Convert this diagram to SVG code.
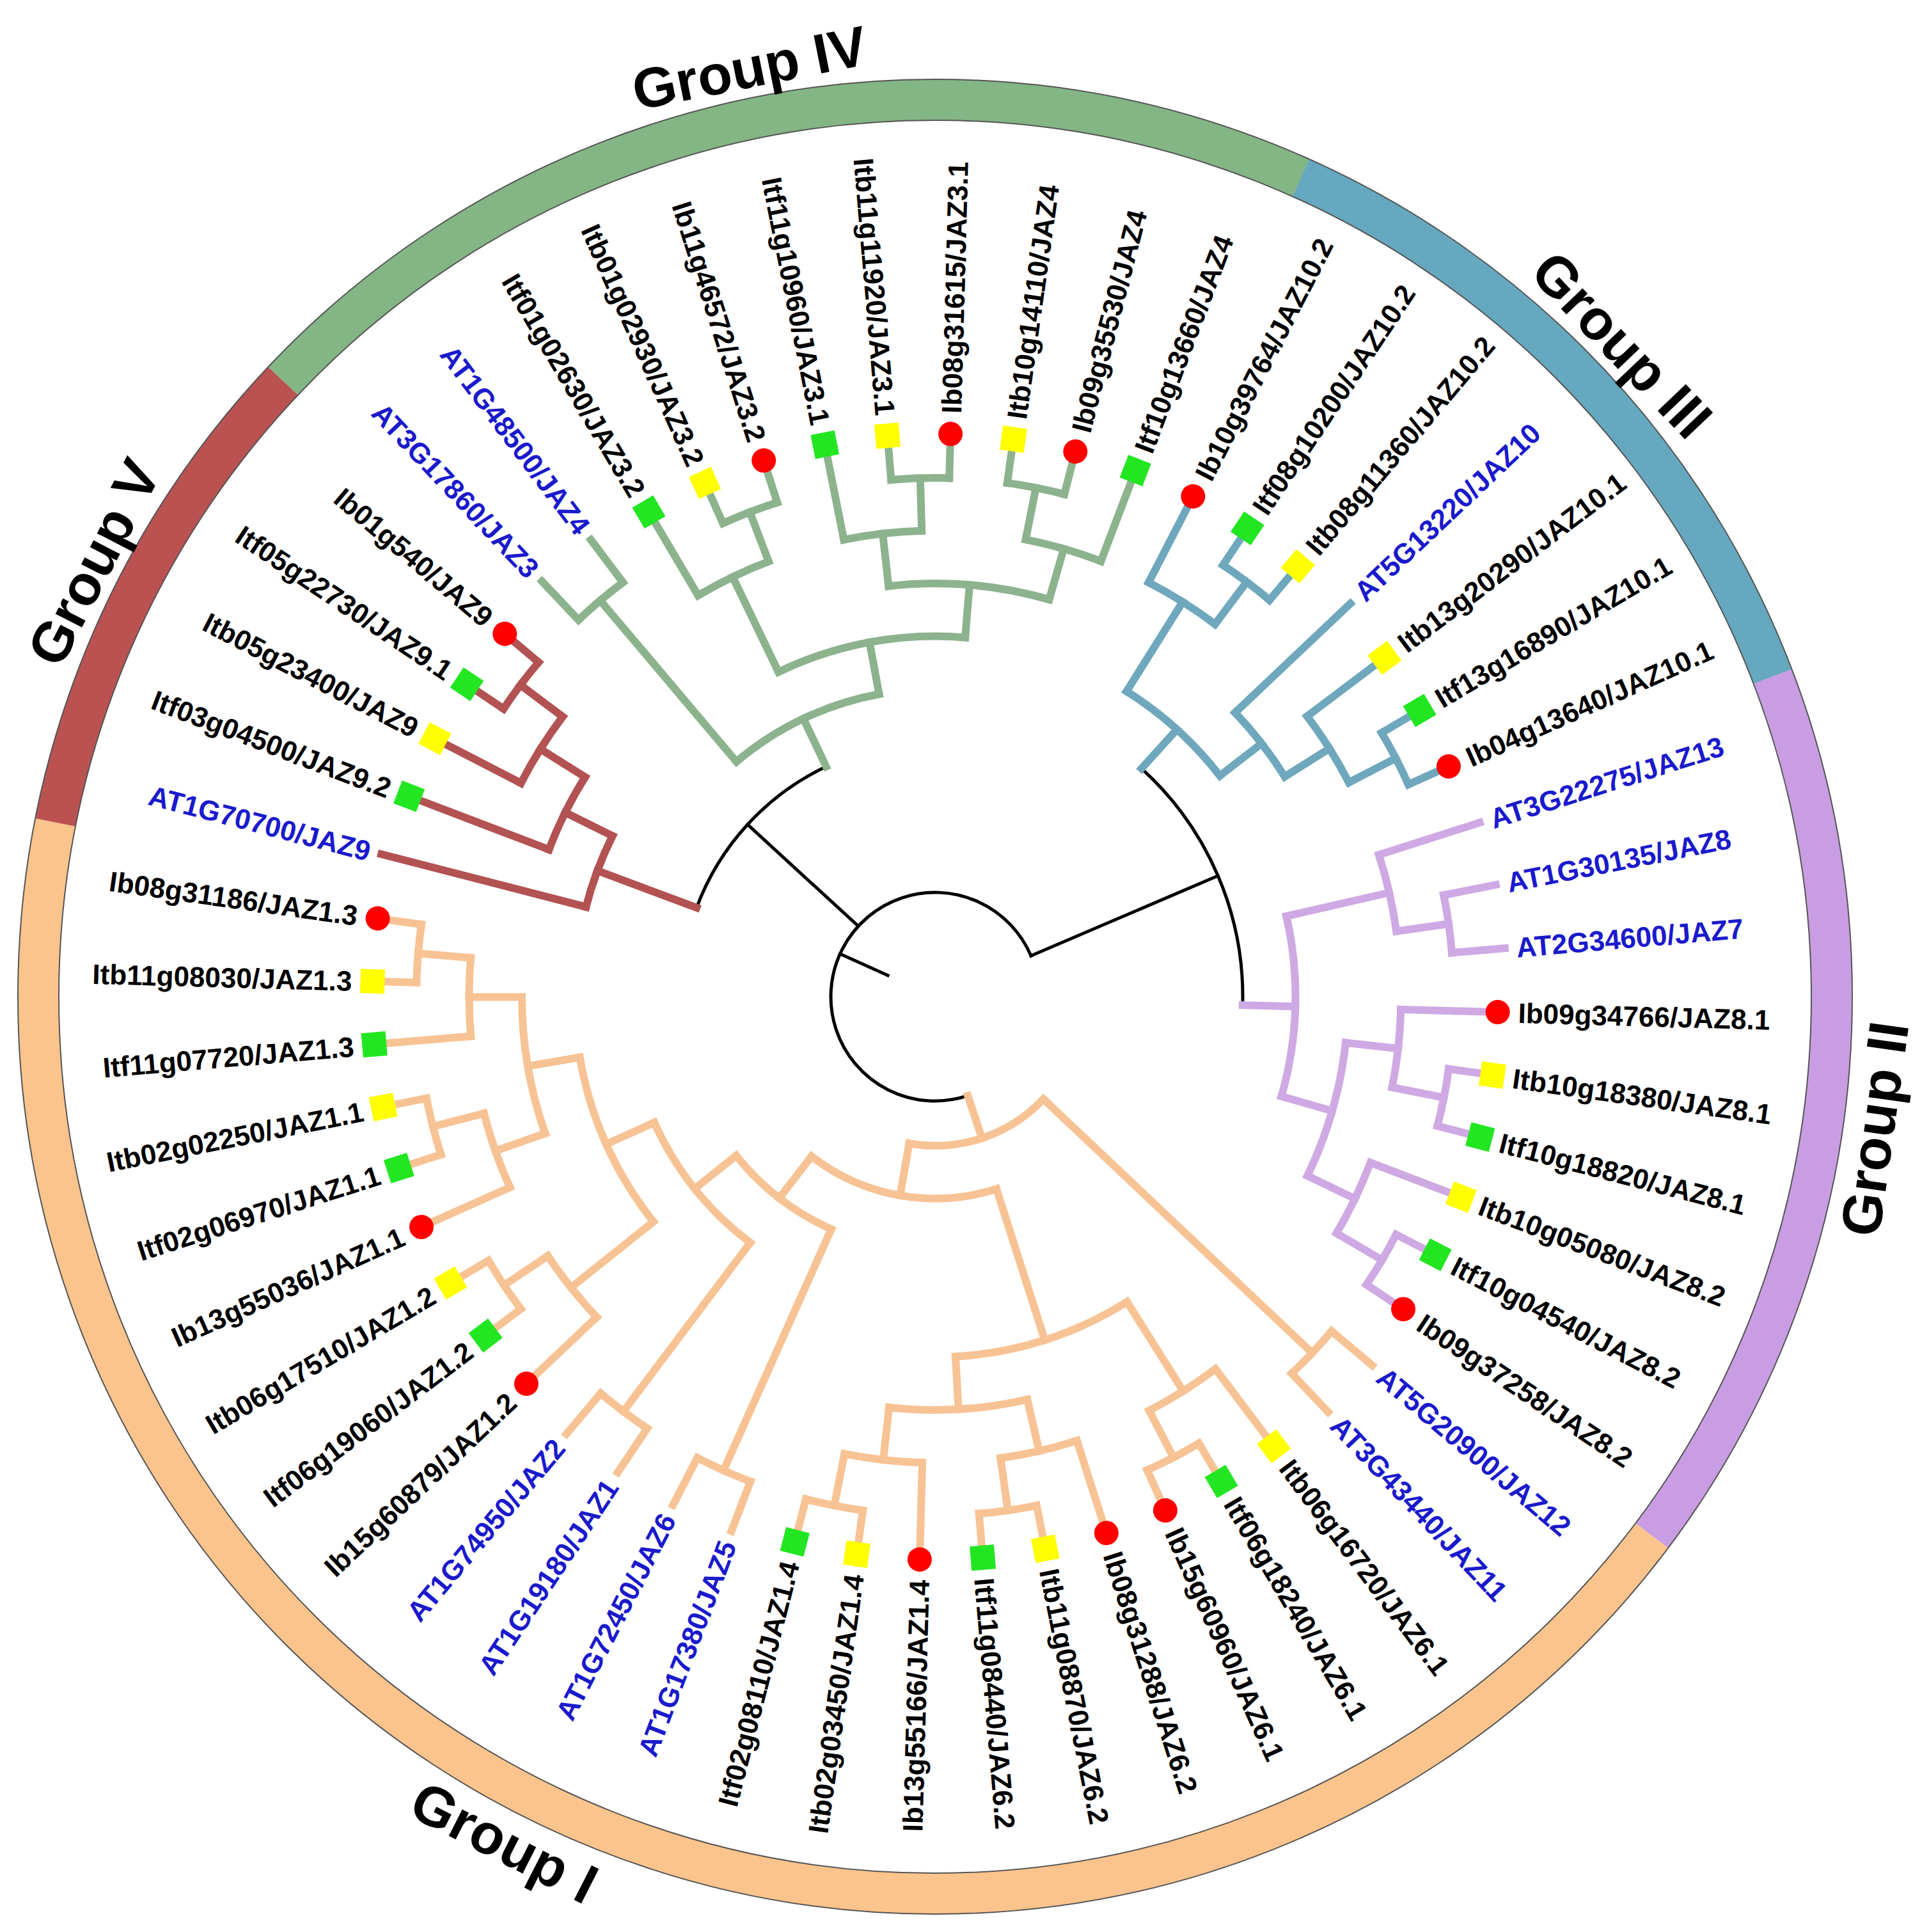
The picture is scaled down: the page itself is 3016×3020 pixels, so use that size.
<svg xmlns="http://www.w3.org/2000/svg" width="3016" height="3020" viewBox="0 0 3016 3020">
<style>
.br line,.br circle{fill:none;stroke-width:12;stroke-linecap:square}
.k line,.k circle{stroke:#000;stroke-width:5}
.c1 line,.c1 circle{stroke:#f7c395}
.c2 line,.c2 circle{stroke:#cfa9e3}
.c3 line,.c3 circle{stroke:#6fa8bd}
.c4 line,.c4 circle{stroke:#8cb38e}
.c5 line,.c5 circle{stroke:#b35252}
.ring circle.seg{fill:none;stroke-width:64}
.ring circle.rl{fill:none;stroke:#555;stroke-width:2}
.t{font-family:"Liberation Sans",Arial,sans-serif;font-weight:bold;font-size:44px;fill:#000}
.at{fill:#1a1acc}
.g{font-family:"Liberation Sans",Arial,sans-serif;font-weight:bold;font-size:88px;fill:#000;text-anchor:middle}
.mr{fill:#ff0000}
.my{fill:#ffff00}
.mg{fill:#22e622}
</style>
<rect width="3016" height="3020" fill="#fff"/>
<g transform="translate(1462,1558)">
<g id="ring" class="ring">
<circle class="seg" r="1402" stroke="#c99de3" stroke-dasharray="1415.8 9000" transform="rotate(-20.93)"/>
<circle class="seg" r="1402" stroke="#fbc48d" stroke-dasharray="3775.1 9000" transform="rotate(36.93)"/>
<circle class="seg" r="1402" stroke="#bb5252" stroke-dasharray="786.7 9000" transform="rotate(191.21)"/>
<circle class="seg" r="1402" stroke="#84b585" stroke-dasharray="1730.2 9000" transform="rotate(223.36)"/>
<circle class="seg" r="1402" stroke="#65a8bf" stroke-dasharray="1101.1 9000" transform="rotate(294.07)"/>
<circle class="rl" r="1370"/>
<circle class="rl" r="1434"/>
</g>
<g id="group-labels">
<text class="g" y="32" transform="rotate(258.7) translate(1482,0) rotate(90)">Group IV</text>
<text class="g" y="32" transform="rotate(316.5) translate(1482,0) rotate(90)">Group III</text>
<text class="g" y="32" transform="rotate(8) translate(1482,0) rotate(-90)">Group II</text>
<text class="g" y="32" transform="rotate(117) translate(1482,0) rotate(-90)">Group I</text>
<text class="g" y="32" transform="rotate(207.3) translate(1482,0) rotate(90)">Group V</text>
</g>
<g id="connectors" class="br">
<g class="k">
<circle r="163" stroke-dasharray="754.4 9000" transform="rotate(71.68)"/>
<line x1="81" x2="163" transform="rotate(204.27)"/>
<line x1="163" x2="398" transform="rotate(222.56)"/>
<circle r="398" stroke-dasharray="307 9000" transform="rotate(200.46)"/>
<line x1="163" x2="481" transform="rotate(336.86)"/>
<circle r="481" stroke-dasharray="414.9 9000" transform="rotate(312.15)"/>
</g>
<g class="c1">
<circle r="233" stroke-dasharray="230.3 9000" transform="rotate(43.36)"/>
<circle r="315.5" stroke-dasharray="305.3 9000" transform="rotate(72.28)"/>
<circle r="398" stroke-dasharray="189.8 9000" transform="rotate(114.07)"/>
<circle r="481" stroke-dasharray="242.9 9000" transform="rotate(126.93)"/>
<circle r="563.5" stroke-dasharray="284.5 9000" transform="rotate(141.39)"/>
<circle r="646" stroke-dasharray="217.4 9000" transform="rotate(160.68)"/>
<circle r="728.5" stroke-dasharray="122.7 9000" transform="rotate(175.14)"/>
<circle r="811" stroke-dasharray="91 9000" transform="rotate(181.57)"/>
<circle r="728.5" stroke-dasharray="122.6 9000" transform="rotate(155.86)"/>
<circle r="811" stroke-dasharray="91 9000" transform="rotate(162.28)"/>
<circle r="728.5" stroke-dasharray="122.6 9000" transform="rotate(136.57)"/>
<circle r="811" stroke-dasharray="91 9000" transform="rotate(143)"/>
<circle r="811" stroke-dasharray="91 9000" transform="rotate(123.71)"/>
<circle r="811" stroke-dasharray="90.9 9000" transform="rotate(110.86)"/>
<circle r="563.5" stroke-dasharray="284.5 9000" transform="rotate(57.82)"/>
<circle r="646" stroke-dasharray="217.5 9000" transform="rotate(77.1)"/>
<circle r="728.5" stroke-dasharray="122.6 9000" transform="rotate(91.57)"/>
<circle r="811" stroke-dasharray="91 9000" transform="rotate(98)"/>
<circle r="728.5" stroke-dasharray="122.7 9000" transform="rotate(72.28)"/>
<circle r="811" stroke-dasharray="91 9000" transform="rotate(78.71)"/>
<circle r="728.5" stroke-dasharray="122.6 9000" transform="rotate(53)"/>
<circle r="811" stroke-dasharray="91 9000" transform="rotate(59.43)"/>
<circle r="811" stroke-dasharray="91 9000" transform="rotate(40.14)"/>
<line x1="163" x2="233" transform="rotate(71.68)"/>
<line x1="233" x2="811" transform="rotate(43.36)"/>
<line x1="233" x2="315.5" transform="rotate(100)"/>
<line x1="315.5" x2="563.5" transform="rotate(72.28)"/>
<line x1="315.5" x2="398" transform="rotate(127.73)"/>
<line x1="398" x2="811" transform="rotate(114.07)"/>
<line x1="398" x2="481" transform="rotate(141.39)"/>
<line x1="481" x2="811" transform="rotate(126.93)"/>
<line x1="481" x2="563.5" transform="rotate(155.86)"/>
<line x1="563.5" x2="728.5" transform="rotate(141.39)"/>
<line x1="563.5" x2="646" transform="rotate(170.32)"/>
<line x1="646" x2="728.5" transform="rotate(160.68)"/>
<line x1="646" x2="728.5" transform="rotate(179.96)"/>
<line x1="728.5" x2="811" transform="rotate(184.79)"/>
<line x1="728.5" x2="811" transform="rotate(165.5)"/>
<line x1="728.5" x2="811" transform="rotate(146.21)"/>
<line x1="563.5" x2="728.5" transform="rotate(57.82)"/>
<line x1="563.5" x2="646" transform="rotate(86.75)"/>
<line x1="646" x2="728.5" transform="rotate(77.1)"/>
<line x1="646" x2="728.5" transform="rotate(96.39)"/>
<line x1="728.5" x2="811" transform="rotate(81.93)"/>
<line x1="728.5" x2="811" transform="rotate(101.21)"/>
<line x1="728.5" x2="811" transform="rotate(62.64)"/>
<line x1="811" x2="894" transform="rotate(40.14)"/>
<line x1="811" x2="894" transform="rotate(46.57)"/>
<line x1="728.5" x2="880" transform="rotate(53)"/>
<line x1="811" x2="880" transform="rotate(59.43)"/>
<line x1="811" x2="880" transform="rotate(65.86)"/>
<line x1="728.5" x2="880" transform="rotate(72.28)"/>
<line x1="811" x2="880" transform="rotate(78.71)"/>
<line x1="811" x2="880" transform="rotate(85.14)"/>
<line x1="728.5" x2="880" transform="rotate(91.57)"/>
<line x1="811" x2="880" transform="rotate(98)"/>
<line x1="811" x2="880" transform="rotate(104.43)"/>
<line x1="811" x2="894" transform="rotate(110.86)"/>
<line x1="811" x2="894" transform="rotate(117.28)"/>
<line x1="811" x2="894" transform="rotate(123.71)"/>
<line x1="811" x2="894" transform="rotate(130.14)"/>
<line x1="728.5" x2="880" transform="rotate(136.57)"/>
<line x1="811" x2="880" transform="rotate(143)"/>
<line x1="811" x2="880" transform="rotate(149.43)"/>
<line x1="728.5" x2="880" transform="rotate(155.86)"/>
<line x1="811" x2="880" transform="rotate(162.28)"/>
<line x1="811" x2="880" transform="rotate(168.71)"/>
<line x1="728.5" x2="880" transform="rotate(175.14)"/>
<line x1="811" x2="880" transform="rotate(181.57)"/>
<line x1="811" x2="880" transform="rotate(188)"/>
</g>
<g class="c2">
<circle r="563.5" stroke-dasharray="284.6 9000" transform="rotate(-12.9)"/>
<circle r="728.5" stroke-dasharray="122.6 9000" transform="rotate(-17.72)"/>
<circle r="811" stroke-dasharray="91 9000" transform="rotate(-11.29)"/>
<circle r="646" stroke-dasharray="217.5 9000" transform="rotate(6.39)"/>
<circle r="728.5" stroke-dasharray="122.6 9000" transform="rotate(1.57)"/>
<circle r="811" stroke-dasharray="91 9000" transform="rotate(8)"/>
<circle r="728.5" stroke-dasharray="122.6 9000" transform="rotate(20.86)"/>
<circle r="811" stroke-dasharray="91 9000" transform="rotate(27.28)"/>
<line x1="481" x2="563.5" transform="rotate(1.57)"/>
<line x1="563.5" x2="728.5" transform="rotate(-12.9)"/>
<line x1="563.5" x2="646" transform="rotate(16.04)"/>
<line x1="728.5" x2="811" transform="rotate(-8.075)"/>
<line x1="646" x2="728.5" transform="rotate(6.39)"/>
<line x1="646" x2="728.5" transform="rotate(25.68)"/>
<line x1="728.5" x2="811" transform="rotate(11.215)"/>
<line x1="728.5" x2="811" transform="rotate(30.5)"/>
<line x1="728.5" x2="894" transform="rotate(-17.72)"/>
<line x1="811" x2="894" transform="rotate(-11.29)"/>
<line x1="811" x2="894" transform="rotate(-4.86)"/>
<line x1="728.5" x2="880" transform="rotate(1.57)"/>
<line x1="811" x2="880" transform="rotate(8)"/>
<line x1="811" x2="880" transform="rotate(14.43)"/>
<line x1="728.5" x2="880" transform="rotate(20.86)"/>
<line x1="811" x2="880" transform="rotate(27.28)"/>
<line x1="811" x2="880" transform="rotate(33.71)"/>
</g>
<g class="c3">
<circle r="563.5" stroke-dasharray="197.7 9000" transform="rotate(302.1)"/>
<circle r="728.5" stroke-dasharray="122.7 9000" transform="rotate(297.28)"/>
<circle r="811" stroke-dasharray="91 9000" transform="rotate(303.71)"/>
<circle r="646" stroke-dasharray="126.8 9000" transform="rotate(316.57)"/>
<circle r="728.5" stroke-dasharray="122.6 9000" transform="rotate(323)"/>
<circle r="811" stroke-dasharray="90.9 9000" transform="rotate(329.43)"/>
<line x1="481" x2="563.5" transform="rotate(312.15)"/>
<line x1="563.5" x2="728.5" transform="rotate(302.1)"/>
<line x1="563.5" x2="646" transform="rotate(322.2)"/>
<line x1="728.5" x2="811" transform="rotate(306.93)"/>
<line x1="646" x2="728.5" transform="rotate(327.82)"/>
<line x1="728.5" x2="811" transform="rotate(332.64)"/>
<line x1="728.5" x2="880" transform="rotate(297.28)"/>
<line x1="811" x2="880" transform="rotate(303.71)"/>
<line x1="811" x2="880" transform="rotate(310.14)"/>
<line x1="646" x2="894" transform="rotate(316.57)"/>
<line x1="728.5" x2="880" transform="rotate(323)"/>
<line x1="811" x2="880" transform="rotate(329.43)"/>
<line x1="811" x2="880" transform="rotate(335.85)"/>
</g>
<g class="c5">
<circle r="563.5" stroke-dasharray="118.5 9000" transform="rotate(194.43)"/>
<circle r="646" stroke-dasharray="126.7 9000" transform="rotate(200.86)"/>
<circle r="728.5" stroke-dasharray="122.7 9000" transform="rotate(207.28)"/>
<circle r="811" stroke-dasharray="91 9000" transform="rotate(213.71)"/>
<line x1="398" x2="563.5" transform="rotate(200.46)"/>
<line x1="563.5" x2="646" transform="rotate(206.48)"/>
<line x1="646" x2="728.5" transform="rotate(212.1)"/>
<line x1="728.5" x2="811" transform="rotate(216.93)"/>
<line x1="563.5" x2="894" transform="rotate(194.43)"/>
<line x1="646" x2="880" transform="rotate(200.86)"/>
<line x1="728.5" x2="880" transform="rotate(207.28)"/>
<line x1="811" x2="880" transform="rotate(213.71)"/>
<line x1="811" x2="880" transform="rotate(220.14)"/>
</g>
<g class="c4">
<circle r="481" stroke-dasharray="249.6 9000" transform="rotate(229.79)"/>
<circle r="811" stroke-dasharray="91 9000" transform="rotate(226.57)"/>
<circle r="563.5" stroke-dasharray="300.4 9000" transform="rotate(244.25)"/>
<circle r="728.5" stroke-dasharray="122.6 9000" transform="rotate(239.43)"/>
<circle r="811" stroke-dasharray="90.9 9000" transform="rotate(245.86)"/>
<circle r="646" stroke-dasharray="253.6 9000" transform="rotate(263.54)"/>
<circle r="728.5" stroke-dasharray="122.7 9000" transform="rotate(258.71)"/>
<circle r="811" stroke-dasharray="91 9000" transform="rotate(265.14)"/>
<circle r="728.5" stroke-dasharray="122.6 9000" transform="rotate(281.21)"/>
<circle r="811" stroke-dasharray="91 9000" transform="rotate(278)"/>
<line x1="398" x2="481" transform="rotate(244.66)"/>
<line x1="481" x2="811" transform="rotate(229.79)"/>
<line x1="481" x2="563.5" transform="rotate(259.52)"/>
<line x1="563.5" x2="728.5" transform="rotate(244.25)"/>
<line x1="563.5" x2="646" transform="rotate(274.79)"/>
<line x1="728.5" x2="811" transform="rotate(249.07)"/>
<line x1="646" x2="728.5" transform="rotate(263.54)"/>
<line x1="646" x2="728.5" transform="rotate(286.03)"/>
<line x1="728.5" x2="811" transform="rotate(268.36)"/>
<line x1="728.5" x2="811" transform="rotate(281.21)"/>
<line x1="811" x2="894" transform="rotate(226.57)"/>
<line x1="811" x2="894" transform="rotate(233)"/>
<line x1="728.5" x2="880" transform="rotate(239.43)"/>
<line x1="811" x2="880" transform="rotate(245.86)"/>
<line x1="811" x2="880" transform="rotate(252.28)"/>
<line x1="728.5" x2="880" transform="rotate(258.71)"/>
<line x1="811" x2="880" transform="rotate(265.14)"/>
<line x1="811" x2="880" transform="rotate(271.57)"/>
<line x1="811" x2="880" transform="rotate(278)"/>
<line x1="811" x2="880" transform="rotate(284.43)"/>
<line x1="728.5" x2="880" transform="rotate(290.85)"/>
</g>
</g>
<g id="leaves">
<g id="n01" transform="rotate(-17.72)"><text class="t at" x="912" y="16">AT3G22275/JAZ13</text></g>
<g id="n02" transform="rotate(-11.29)"><text class="t at" x="912" y="16">AT1G30135/JAZ8</text></g>
<g id="n03" transform="rotate(-4.86)"><text class="t at" x="912" y="16">AT2G34600/JAZ7</text></g>
<g id="n04" transform="rotate(1.57)"><circle class="mr" cx="880" r="19"/><text class="t" x="912" y="16">Ib09g34766/JAZ8.1</text></g>
<g id="n05" transform="rotate(8)"><rect class="my" x="861" y="-19" width="38" height="38"/><text class="t" x="912" y="16">Itb10g18380/JAZ8.1</text></g>
<g id="n06" transform="rotate(14.43)"><rect class="mg" x="861" y="-19" width="38" height="38"/><text class="t" x="912" y="16">Itf10g18820/JAZ8.1</text></g>
<g id="n07" transform="rotate(20.86)"><rect class="my" x="861" y="-19" width="38" height="38"/><text class="t" x="912" y="16">Itb10g05080/JAZ8.2</text></g>
<g id="n08" transform="rotate(27.28)"><rect class="mg" x="861" y="-19" width="38" height="38"/><text class="t" x="912" y="16">Itf10g04540/JAZ8.2</text></g>
<g id="n09" transform="rotate(33.71)"><circle class="mr" cx="880" r="19"/><text class="t" x="912" y="16">Ib09g37258/JAZ8.2</text></g>
<g id="n10" transform="rotate(40.14)"><text class="t at" x="912" y="16">AT5G20900/JAZ12</text></g>
<g id="n11" transform="rotate(46.57)"><text class="t at" x="912" y="16">AT3G43440/JAZ11</text></g>
<g id="n12" transform="rotate(53)"><rect class="my" x="861" y="-19" width="38" height="38"/><text class="t" x="912" y="16">Itb06g16720/JAZ6.1</text></g>
<g id="n13" transform="rotate(59.43)"><rect class="mg" x="861" y="-19" width="38" height="38"/><text class="t" x="912" y="16">Itf06g18240/JAZ6.1</text></g>
<g id="n14" transform="rotate(65.86)"><circle class="mr" cx="880" r="19"/><text class="t" x="912" y="16">Ib15g60960/JAZ6.1</text></g>
<g id="n15" transform="rotate(72.28)"><circle class="mr" cx="880" r="19"/><text class="t" x="912" y="16">Ib08g31288/JAZ6.2</text></g>
<g id="n16" transform="rotate(78.71)"><rect class="my" x="861" y="-19" width="38" height="38"/><text class="t" x="912" y="16">Itb11g08870/JAZ6.2</text></g>
<g id="n17" transform="rotate(85.14)"><rect class="mg" x="861" y="-19" width="38" height="38"/><text class="t" x="912" y="16">Itf11g08440/JAZ6.2</text></g>
<g id="n18" transform="rotate(91.57)"><circle class="mr" cx="880" r="19"/><text class="t" transform="rotate(180)" x="-912" y="16" text-anchor="end">Ib13g55166/JAZ1.4</text></g>
<g id="n19" transform="rotate(98)"><rect class="my" x="861" y="-19" width="38" height="38"/><text class="t" transform="rotate(180)" x="-912" y="16" text-anchor="end">Itb02g03450/JAZ1.4</text></g>
<g id="n20" transform="rotate(104.43)"><rect class="mg" x="861" y="-19" width="38" height="38"/><text class="t" transform="rotate(180)" x="-912" y="16" text-anchor="end">Itf02g08110/JAZ1.4</text></g>
<g id="n21" transform="rotate(110.86)"><text class="t at" transform="rotate(180)" x="-912" y="16" text-anchor="end">AT1G17380/JAZ5</text></g>
<g id="n22" transform="rotate(117.28)"><text class="t at" transform="rotate(180)" x="-912" y="16" text-anchor="end">AT1G72450/JAZ6</text></g>
<g id="n23" transform="rotate(123.71)"><text class="t at" transform="rotate(180)" x="-912" y="16" text-anchor="end">AT1G19180/JAZ1</text></g>
<g id="n24" transform="rotate(130.14)"><text class="t at" transform="rotate(180)" x="-912" y="16" text-anchor="end">AT1G74950/JAZ2</text></g>
<g id="n25" transform="rotate(136.57)"><circle class="mr" cx="880" r="19"/><text class="t" transform="rotate(180)" x="-912" y="16" text-anchor="end">Ib15g60879/JAZ1.2</text></g>
<g id="n26" transform="rotate(143)"><rect class="mg" x="861" y="-19" width="38" height="38"/><text class="t" transform="rotate(180)" x="-912" y="16" text-anchor="end">Itf06g19060/JAZ1.2</text></g>
<g id="n27" transform="rotate(149.43)"><rect class="my" x="861" y="-19" width="38" height="38"/><text class="t" transform="rotate(180)" x="-912" y="16" text-anchor="end">Itb06g17510/JAZ1.2</text></g>
<g id="n28" transform="rotate(155.86)"><circle class="mr" cx="880" r="19"/><text class="t" transform="rotate(180)" x="-912" y="16" text-anchor="end">Ib13g55036/JAZ1.1</text></g>
<g id="n29" transform="rotate(162.28)"><rect class="mg" x="861" y="-19" width="38" height="38"/><text class="t" transform="rotate(180)" x="-912" y="16" text-anchor="end">Itf02g06970/JAZ1.1</text></g>
<g id="n30" transform="rotate(168.71)"><rect class="my" x="861" y="-19" width="38" height="38"/><text class="t" transform="rotate(180)" x="-912" y="16" text-anchor="end">Itb02g02250/JAZ1.1</text></g>
<g id="n31" transform="rotate(175.14)"><rect class="mg" x="861" y="-19" width="38" height="38"/><text class="t" transform="rotate(180)" x="-912" y="16" text-anchor="end">Itf11g07720/JAZ1.3</text></g>
<g id="n32" transform="rotate(181.57)"><rect class="my" x="861" y="-19" width="38" height="38"/><text class="t" transform="rotate(180)" x="-912" y="16" text-anchor="end">Itb11g08030/JAZ1.3</text></g>
<g id="n33" transform="rotate(188)"><circle class="mr" cx="880" r="19"/><text class="t" transform="rotate(180)" x="-912" y="16" text-anchor="end">Ib08g31186/JAZ1.3</text></g>
<g id="n34" transform="rotate(194.43)"><text class="t at" transform="rotate(180)" x="-912" y="16" text-anchor="end">AT1G70700/JAZ9</text></g>
<g id="n35" transform="rotate(200.86)"><rect class="mg" x="861" y="-19" width="38" height="38"/><text class="t" transform="rotate(180)" x="-912" y="16" text-anchor="end">Itf03g04500/JAZ9.2</text></g>
<g id="n36" transform="rotate(207.28)"><rect class="my" x="861" y="-19" width="38" height="38"/><text class="t" transform="rotate(180)" x="-912" y="16" text-anchor="end">Itb05g23400/JAZ9</text></g>
<g id="n37" transform="rotate(213.71)"><rect class="mg" x="861" y="-19" width="38" height="38"/><text class="t" transform="rotate(180)" x="-912" y="16" text-anchor="end">Itf05g22730/JAZ9.1</text></g>
<g id="n38" transform="rotate(220.14)"><circle class="mr" cx="880" r="19"/><text class="t" transform="rotate(180)" x="-912" y="16" text-anchor="end">Ib01g540/JAZ9</text></g>
<g id="n39" transform="rotate(226.57)"><text class="t at" transform="rotate(180)" x="-912" y="16" text-anchor="end">AT3G17860/JAZ3</text></g>
<g id="n40" transform="rotate(233)"><text class="t at" transform="rotate(180)" x="-912" y="16" text-anchor="end">AT1G48500/JAZ4</text></g>
<g id="n41" transform="rotate(239.43)"><rect class="mg" x="861" y="-19" width="38" height="38"/><text class="t" transform="rotate(180)" x="-912" y="16" text-anchor="end">Itf01g02630/JAZ3.2</text></g>
<g id="n42" transform="rotate(245.86)"><rect class="my" x="861" y="-19" width="38" height="38"/><text class="t" transform="rotate(180)" x="-912" y="16" text-anchor="end">Itb01g02930/JAZ3.2</text></g>
<g id="n43" transform="rotate(252.28)"><circle class="mr" cx="880" r="19"/><text class="t" transform="rotate(180)" x="-912" y="16" text-anchor="end">Ib11g46572/JAZ3.2</text></g>
<g id="n44" transform="rotate(258.71)"><rect class="mg" x="861" y="-19" width="38" height="38"/><text class="t" transform="rotate(180)" x="-912" y="16" text-anchor="end">Itf11g10960/JAZ3.1</text></g>
<g id="n45" transform="rotate(265.14)"><rect class="my" x="861" y="-19" width="38" height="38"/><text class="t" transform="rotate(180)" x="-912" y="16" text-anchor="end">Itb11g11920/JAZ3.1</text></g>
<g id="n46" transform="rotate(271.57)"><circle class="mr" cx="880" r="19"/><text class="t" x="912" y="16">Ib08g31615/JAZ3.1</text></g>
<g id="n47" transform="rotate(278)"><rect class="my" x="861" y="-19" width="38" height="38"/><text class="t" x="912" y="16">Itb10g14110/JAZ4</text></g>
<g id="n48" transform="rotate(284.43)"><circle class="mr" cx="880" r="19"/><text class="t" x="912" y="16">Ib09g35530/JAZ4</text></g>
<g id="n49" transform="rotate(290.85)"><rect class="mg" x="861" y="-19" width="38" height="38"/><text class="t" x="912" y="16">Itf10g13660/JAZ4</text></g>
<g id="n50" transform="rotate(297.28)"><circle class="mr" cx="880" r="19"/><text class="t" x="912" y="16">Ib10g39764/JAZ10.2</text></g>
<g id="n51" transform="rotate(303.71)"><rect class="mg" x="861" y="-19" width="38" height="38"/><text class="t" x="912" y="16">Itf08g10200/JAZ10.2</text></g>
<g id="n52" transform="rotate(310.14)"><rect class="my" x="861" y="-19" width="38" height="38"/><text class="t" x="912" y="16">Itb08g11360/JAZ10.2</text></g>
<g id="n53" transform="rotate(316.57)"><text class="t at" x="912" y="16">AT5G13220/JAZ10</text></g>
<g id="n54" transform="rotate(323)"><rect class="my" x="861" y="-19" width="38" height="38"/><text class="t" x="912" y="16">Itb13g20290/JAZ10.1</text></g>
<g id="n55" transform="rotate(329.43)"><rect class="mg" x="861" y="-19" width="38" height="38"/><text class="t" x="912" y="16">Itf13g16890/JAZ10.1</text></g>
<g id="n56" transform="rotate(335.85)"><circle class="mr" cx="880" r="19"/><text class="t" x="912" y="16">Ib04g13640/JAZ10.1</text></g>
</g>
</g>
</svg>
